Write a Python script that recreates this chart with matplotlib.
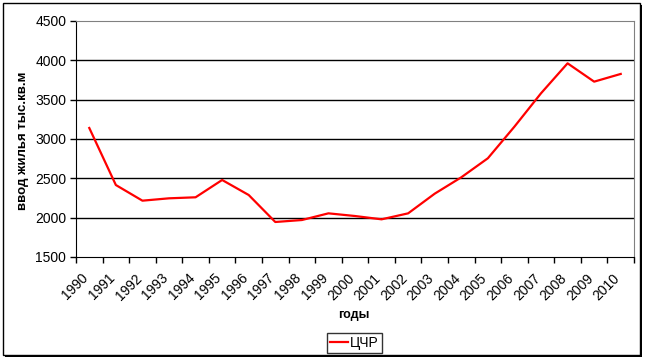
import matplotlib
matplotlib.use('Agg')
import matplotlib.pyplot as plt
from matplotlib.patches import Rectangle
from matplotlib.ticker import FixedLocator, NullFormatter
from matplotlib.transforms import blended_transform_factory, offset_copy

plt.rcParams['font.family'] = ['Liberation Sans', 'DejaVu Sans']

years = [str(y) for y in range(1990, 2011)]
values = [3140, 2415, 2216, 2246, 2259, 2479, 2288, 1945, 1970, 2055, 2021,
          1979, 2055, 2305, 2513, 2755, 3157, 3581, 3962, 3729, 3827]
series_name = 'ЦЧР'
y_ticks = [1500, 2000, 2500, 3000, 3500, 4000, 4500]

W, H = 645, 360
fig = plt.figure(figsize=(W / 100, H / 100), dpi=100)

# pixel coords (from top-left) -> figure fraction
def px(x, y):
    return x / W, 1 - y / H

# outer chart frame with shadow
x0, y0 = px(3, 355)
fig.patches.append(Rectangle((x0 + 2 / W, y0 - 2 / H), 637 / W, 352 / H,
                             transform=fig.transFigure, facecolor='black',
                             edgecolor='none', zorder=0))
fig.patches.append(Rectangle((x0, y0), 637 / W, 352 / H,
                             transform=fig.transFigure, facecolor='white',
                             edgecolor='black', linewidth=1, zorder=1))

l, b = px(76, 257)
r, t = px(634, 21)
ax = fig.add_axes([l, b, r - l, t - b])
ax.set_zorder(2)

xs = list(range(len(years)))
ax.plot(xs, values, color='#ff0000', linewidth=1.6, label=series_name, zorder=3)

ax.set_xlim(-0.5, len(years) - 0.5)
ax.set_ylim(1500, 4500)
ax.set_yticks(y_ticks)
ax.set_yticklabels([str(v) for v in y_ticks], fontsize=10)
for v in y_ticks[1:-1]:
    ax.axhline(v, color='black', linewidth=1, zorder=1)

# category axis: tick marks between categories, labels drawn by hand
ax.xaxis.set_major_locator(FixedLocator([i - 0.5 for i in range(len(years) + 1)]))
ax.xaxis.set_major_formatter(NullFormatter())
ax.tick_params(axis='x', which='major', length=4, width=1, direction='out')
ax.tick_params(axis='y', length=4, width=1, direction='out', pad=3)

lab_trans = offset_copy(blended_transform_factory(ax.transData, ax.transAxes),
                        fig=fig, x=-3, y=-19, units='dots')
for i, yr in enumerate(years):
    ax.text(i, 0, yr, transform=lab_trans, fontsize=10, rotation=45,
            ha='right', va='center', rotation_mode='anchor', clip_on=False)

for side in ['top', 'right']:
    ax.spines[side].set_color('#808080')
for side in ['left', 'bottom']:
    ax.spines[side].set_color('black')

fig.text(354 / W, 1 - 315 / H, 'годы', fontsize=9, fontweight='bold',
         ha='center', va='center')
fig.text(23 / W, 1 - 141 / H, 'ввод жилья тыс.кв.м', rotation=90,
         fontsize=9.5, fontweight='bold', ha='center', va='center')

leg = fig.legend(loc='center', bbox_to_anchor=(354.5 / W, 1 - 343 / H),
                 fontsize=10, frameon=True, fancybox=False, handlelength=1.3,
                 handletextpad=0.15, borderpad=0.25, borderaxespad=0)
leg.get_frame().set_edgecolor('black')
leg.get_frame().set_linewidth(1)

fig.savefig('out.png', dpi=100)
